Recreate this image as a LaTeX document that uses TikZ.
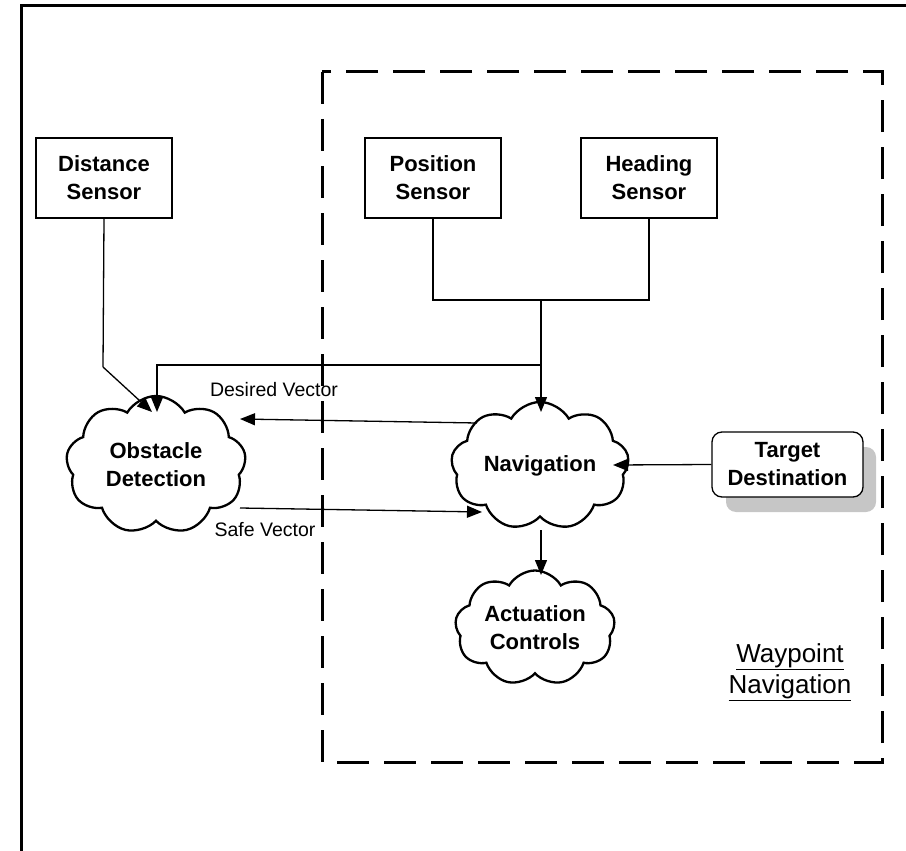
\documentclass[tikz,border=0pt]{standalone}
\usepackage{fontspec}
\setmainfont{Liberation Sans}
\usetikzlibrary{shapes.symbols,arrows.meta}
\begin{document}
\begin{tikzpicture}[x=1pt,y=-1pt,
  sensorbox/.style={draw,line width=1.3pt,minimum width=136pt,minimum height=80pt,align=center,
    font=\fontsize{22}{28}\selectfont\bfseries,inner sep=0pt},
  cloudnode/.style={cloud,draw,line width=2.3pt,cloud puffs=9,cloud puff arc=120,cloud ignores aspect,
    align=center,font=\fontsize{22}{28}\selectfont\bfseries,inner sep=0pt},
  conn/.style={line width=1.3pt},
  arr/.style={line width=1.3pt,-{Triangle[length=15pt,width=12pt]}},
  lbl/.style={font=\fontsize{19.5}{23}\selectfont,inner sep=0pt}
]
\useasboundingbox (0,0) rectangle (906,851);
\clip (0,0) rectangle (906,851);
% outer frame
\draw[line width=3pt] (21,6) rectangle (920,870);
% dashed group box
\draw[line width=3pt,dash pattern=on 32pt off 15pt] (322,72) rectangle (882,762);
% sensors
\node[sensorbox] (dist) at (104,178) {Distance\\Sensor};
\node[sensorbox] (pos) at (433,178) {Position\\Sensor};
\node[sensorbox] (head) at (649,178) {Heading\\Sensor};
% clouds
\node[cloudnode,minimum width=180pt,minimum height=138pt] (obst) at (156,465) {Obstacle\\Detection};
\node[cloudnode,minimum width=178pt,minimum height=128pt] (nav) at (540,466) {Navigation};
\node[cloudnode,minimum width=160pt,minimum height=115pt] (act) at (535,628) {Actuation\\Controls};
% target destination
\fill[gray!45,rounded corners=10pt] (726,447) rectangle (876,512);
\node[draw,fill=white,line width=1.3pt,rounded corners=10pt,minimum width=151pt,minimum height=65pt,
  align=center,font=\fontsize{22}{28}\selectfont\bfseries,inner sep=0pt] (tgt) at (787.5,464.5) {Target\\Destination};
% waypoint label
\node[align=center,font=\fontsize{26}{31}\selectfont,inner sep=0pt] (wp) at (790,672)
  {\underline{Waypoint}\\\underline{Navigation}};
% connection points
\coordinate (jn) at (541,300);
\coordinate (br) at (541,365);
\coordinate (obstTop) at (157,412);
\coordinate (obstTL) at (152,412);
\coordinate (distBend) at (103,367);
\coordinate (navTop) at (541,412);
\coordinate (navLeftHi) at (477,423);
\coordinate (obstRightHi) at (240,419);
\coordinate (obstRightLo) at (240,508);
\coordinate (navLeftLo) at (482,512);
\coordinate (navRight) at (613,465);
\coordinate (navBot) at (541,530);
\coordinate (actTop) at (541,575);
% connectors
\draw[conn] (dist.south) -- (distBend);
\draw[arr] (distBend) -- (obstTL);
\draw[conn] (pos.south) |- (jn) -| (head.south);
\draw[arr] (jn) -- (navTop);
\draw[arr] (br) -| (obstTop);
\draw[arr] (navLeftHi) -- (obstRightHi);
\draw[arr] (obstRightLo) -- (navLeftLo);
\draw[arr] (tgt.west) -- (navRight);
\draw[arr] (navBot) -- (actTop);
% labels
\node[lbl] (dv) at (274,390) {Desired Vector};
\node[lbl] (sv) at (265,530) {Safe Vector};
\end{tikzpicture}
\end{document}
